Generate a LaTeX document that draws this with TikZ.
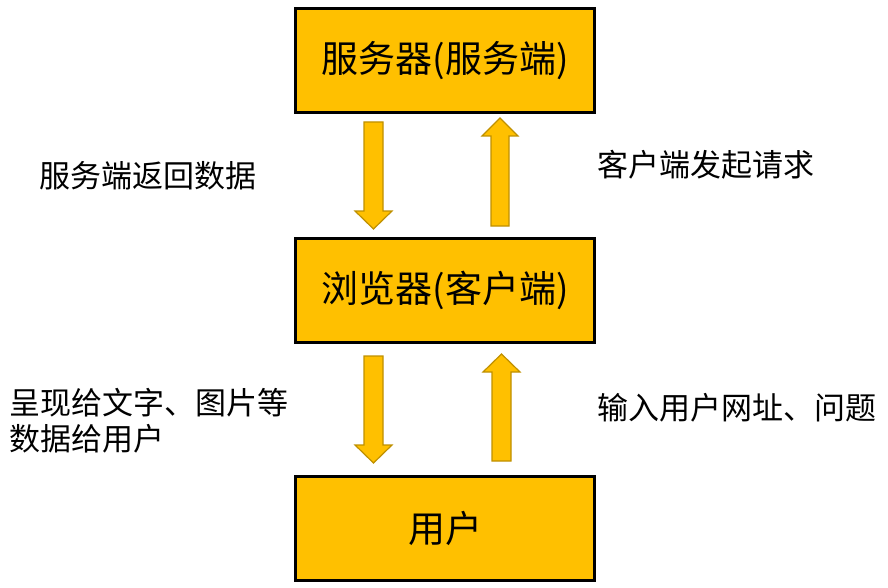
\documentclass[tikz,border=0pt]{standalone}
\usepackage{fontspec}
\setmainfont{Noto Sans CJK SC}
\newfontfamily\cjk{Noto Sans CJK SC}
\definecolor{gold}{HTML}{FFC000}
\definecolor{golddark}{HTML}{BF9000}
\begin{document}
\begin{tikzpicture}[x=1pt,y=-1pt,
  box/.style={draw=black,line width=3.5pt,fill=gold,minimum width=299pt,minimum height=104pt,inner sep=0pt,font=\fontsize{37}{40}\selectfont\cjk},
  lbl/.style={anchor=west,inner sep=0pt,font=\fontsize{31}{36}\selectfont\cjk,align=left},
  barrow/.style={fill=gold,draw=golddark,line width=1.2pt,line join=miter}]
\useasboundingbox (0,0) rectangle (888,588);
\node[box] (srv) at (445,60.5) {服务器(服务端)};
\node[box] (brw) at (445,290.5) {浏览器(客户端)};
\node[box] (usr) at (445,528.5) {用户};
% down arrow 1
\draw[barrow] (364,122) -- (383,122) -- (383,211) -- (392,211) -- (373.5,229) -- (355,211) -- (364,211) -- cycle;
% up arrow 1
\draw[barrow] (491,226) -- (509,226) -- (509,136) -- (518,136) -- (500,118) -- (482,136) -- (491,136) -- cycle;
% down arrow 2
\draw[barrow] (364,356) -- (383,356) -- (383,445) -- (392,445) -- (373.5,463) -- (355,445) -- (364,445) -- cycle;
% up arrow 2
\draw[barrow] (492,461) -- (511,461) -- (511,372) -- (520,372) -- (501.5,354) -- (483,372) -- (492,372) -- cycle;
\node[lbl] (l1) at (39,176) {服务端返回数据};
\node[lbl] (l2) at (597,165) {客户端发起请求};
\node[lbl] (l3) at (9,403) {呈现给文字、图片等};
\node[lbl] (l4) at (9,439) {数据给用户};
\node[lbl] (l5) at (597,408) {输入用户网址、问题};
\end{tikzpicture}
\end{document}
